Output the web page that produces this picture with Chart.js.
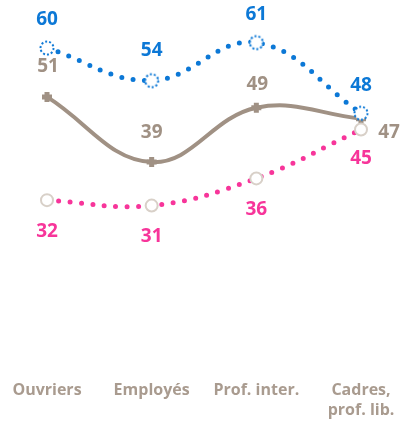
<!DOCTYPE html>
<html>
<head>
<meta charset="utf-8">
<script src="https://cdn.jsdelivr.net/npm/chart.js@4"></script>
<style>
  html, body { margin: 0; padding: 0; background: #fff; }
  #wrap { width: 401px; height: 423px; }
</style>
</head>
<body>
<div id="wrap"><canvas id="csp"></canvas></div>
<script>
  // data
  const categories = ['Ouvriers', 'Employés', 'Prof. inter.', ['Cadres,', 'prof. lib.']];
  const blueValues = [60, 54, 61, 48];
  const grayValues = [51, 39, 49, 47];
  const pinkValues = [32, 31, 36, 45];

  const BLUE = '#0c78d6';
  const GRAY = '#a09184';
  const PINK = '#f7359a';
  const TEXT = '#a99b8f';

  // dotted blue ring used as point marker
  function dottedRing() {
    const c = document.createElement('canvas');
    c.width = 18; c.height = 18;
    const g = c.getContext('2d');
    g.beginPath();
    g.arc(9, 9, 6.5, 0, Math.PI * 2);
    g.fillStyle = '#fff';
    g.fill();
    g.setLineDash([2, 2]);
    g.lineWidth = 2;
    g.strokeStyle = BLUE;
    g.stroke();
    return c;
  }

  // draws value labels next to the points
  const valueLabels = {
    id: 'valueLabels',
    afterDatasetsDraw(chart) {
      const ctx = chart.ctx;
      ctx.save();
      ctx.font = 'bold 19px "Open Sans"';
      ctx.textAlign = 'center';
      ctx.textBaseline = 'middle';
      chart.data.datasets.forEach((ds, i) => {
        const meta = chart.getDatasetMeta(i);
        meta.data.forEach((pt, j) => {
          const off = ds.labelOffsets[j];
          ctx.fillStyle = ds.labelColor;
          ctx.fillText(ds.data[j], pt.x + off[0], pt.y + off[1]);
        });
      });
      ctx.restore();
    }
  };

  const ctx = document.getElementById('csp').getContext('2d');
  const chart = new Chart(ctx, {
    type: 'line',
    data: {
      labels: categories,
      datasets: [{
        data: grayValues,
        borderColor: GRAY,
        borderWidth: 4,
        tension: 0.4,
        pointStyle: 'cross',
        pointRadius: 5,
        pointBorderWidth: 5,
        pointBorderColor: GRAY,
        labelColor: GRAY,
        labelOffsets: [[1, -30], [0, -30], [1, -23], [28, 14]],
        order: 3
      }, {
        data: blueValues,
        borderColor: BLUE,
        borderWidth: 5,
        borderDash: [0, 11.5],
        borderCapStyle: 'round',
        tension: 0.4,
        pointStyle: dottedRing(),
        labelColor: BLUE,
        labelOffsets: [[0, -28], [0, -30], [0, -28], [0, -28]],
        order: 1
      }, {
        data: pinkValues,
        borderColor: PINK,
        borderWidth: 5,
        borderDash: [0, 11.5],
        borderCapStyle: 'round',
        tension: 0.4,
        pointStyle: 'circle',
        pointRadius: 6,
        pointBorderWidth: 2,
        pointBorderColor: '#d8d0c8',
        pointBackgroundColor: '#fff',
        labelColor: PINK,
        labelOffsets: [[0, 31], [0, 31], [0, 31], [0, 29]],
        order: 2
      }]
    },
    options: {
      responsive: true,
      maintainAspectRatio: false,
      animation: false,
      layout: { padding: { left: 47, right: 40, top: 10, bottom: -3 } },
      scales: {
        x: {
          grid: { display: false, drawTicks: false, tickLength: 0 },
          border: { display: false },
          ticks: {
            color: TEXT,
            padding: 6,
            maxRotation: 0,
            autoSkip: false,
            font: { family: 'Open Sans', weight: 'bold', size: 16, lineHeight: 1.25 }
          },
          afterFit: (scale) => { scale.paddingLeft = 0; scale.paddingRight = 0; }
        },
        y: {
          display: false,
          min: 0,
          max: 67
        }
      },
      plugins: {
        legend: { display: false },
        tooltip: { enabled: false }
      }
    },
    plugins: [valueLabels]
  });
</script>
</body>
</html>
